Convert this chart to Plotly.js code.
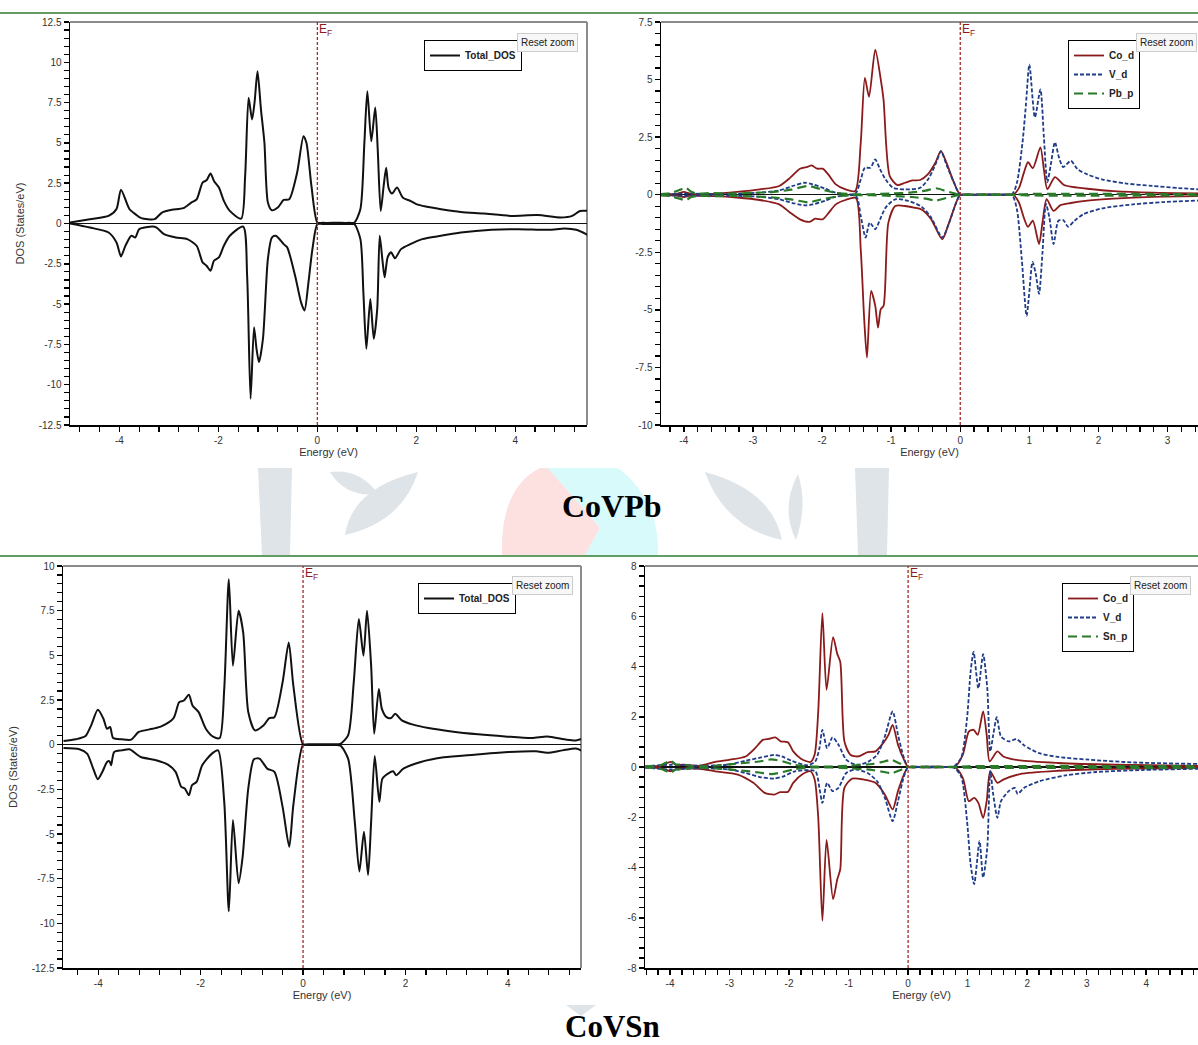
<!DOCTYPE html>
<html>
<head>
<meta charset="utf-8">
<script src="https://cdn.plot.ly/plotly-3.0.1.min.js"></script>
<style>
html,body{margin:0;padding:0;background:#fff;}
#chart{width:1198px;height:1045px;}
</style>
</head>
<body>
<div id="chart"></div>
<script>
// ---------------- DATA ----------------
// Panel 1: CoVPb total DOS
const p1UpE = [-5.0,-4.6,-4.22,-4.06,-3.97,-3.8,-3.68,-3.56,-3.29,-3.14,-2.94,-2.71,-2.55,-2.44,-2.32,-2.24,-2.16,-2.09,-1.99,-1.89,-1.77,-1.54,-1.46,-1.39,-1.32,-1.27,-1.21,-1.14,-1.07,-1.0,-0.92,-0.8,-0.68,-0.57,-0.41,-0.28,-0.22,-0.12,0,0.1,0.4,0.65,0.75,0.87,0.95,1.01,1.09,1.17,1.22,1.28,1.34,1.39,1.44,1.51,1.61,1.73,1.88,2.0,2.19,2.5,2.9,3.36,3.91,4.45,4.92,5.15,5.31,5.5];
const p1Up = [0.06,0.27,0.47,0.9,2.1,0.9,0.58,0.33,0.27,0.68,0.85,0.95,1.3,1.5,2.54,2.68,3.1,2.64,2.23,1.4,0.78,0.3,2.95,7.8,6.45,7.5,9.44,7.07,5.0,1.3,0.82,0.99,1.46,1.5,3.15,5.42,5.0,2.33,0.06,0.04,0.04,0.04,0.06,0.9,5.0,8.2,5.1,7.2,4.6,0.78,2.33,3.46,2.2,1.86,2.23,1.6,1.4,1.2,1.05,0.89,0.72,0.62,0.47,0.52,0.37,0.47,0.78,0.78];
const p1DnE = [-5.0,-4.6,-4.22,-4.06,-3.97,-3.88,-3.76,-3.68,-3.6,-3.33,-3.25,-3.1,-2.86,-2.63,-2.44,-2.32,-2.24,-2.16,-2.09,-1.99,-1.89,-1.77,-1.5,-1.42,-1.35,-1.28,-1.23,-1.18,-1.1,-1.0,-0.92,-0.84,-0.68,-0.61,-0.45,-0.33,-0.26,-0.18,-0.1,0,0.1,0.4,0.65,0.75,0.87,0.93,0.99,1.07,1.14,1.21,1.26,1.32,1.36,1.42,1.49,1.57,1.69,1.88,2.12,2.5,2.9,3.52,4.06,4.68,5.0,5.23,5.5];
const p1Dn = [0,-0.25,-0.56,-1.18,-2.04,-1.38,-0.76,-0.87,-0.35,-0.19,-0.25,-0.66,-0.87,-0.97,-1.38,-2.41,-2.62,-2.93,-2.31,-2.1,-1.38,-0.76,-0.19,-3.24,-10.87,-6.43,-7.77,-8.6,-7.15,-2.2,-0.87,-0.76,-1.28,-1.48,-3.24,-4.89,-5.4,-3.65,-1.59,-0.04,-0.03,-0.03,-0.03,-0.05,-0.97,-4.27,-7.77,-4.68,-7.15,-5.3,-0.76,-2.41,-3.34,-2.1,-1.79,-2.16,-1.59,-1.28,-0.97,-0.76,-0.56,-0.39,-0.35,-0.39,-0.31,-0.39,-0.76];

// Panel 2: CoVPb partial DOS
const p2CoUpE = [-4.34,-4.1,-4.0,-3.9,-3.56,-3.23,-2.9,-2.62,-2.46,-2.32,-2.21,-2.15,-2.07,-1.99,-1.91,-1.8,-1.66,-1.52,-1.44,-1.38,-1.32,-1.23,-1.15,-1.11,-1.02,-0.91,-0.8,-0.69,-0.58,-0.47,-0.36,-0.28,-0.2,-0.09,0,0.25,0.5,0.77,0.85,0.92,0.98,1.05,1.16,1.21,1.26,1.37,1.5,1.62,1.84,2.22,2.78,3.45];
const p2CoUp = [0.02,0.04,0.12,0.04,0.04,0.12,0.23,0.38,0.74,1.13,1.21,1.27,1.13,1.13,0.88,0.45,0.23,0.16,2.25,5.07,4.25,6.3,5.0,4.13,0.81,0.42,0.52,0.62,0.64,0.88,1.39,1.89,1.39,0.52,0.01,0.01,0.01,0.01,0.3,0.95,1.41,1.15,2.06,1.1,0.24,0.76,0.42,0.34,0.26,0.16,0.09,0.06];
const p2CoDnE = [-4.34,-4.1,-4.0,-3.9,-3.56,-3.23,-2.9,-2.62,-2.46,-2.32,-2.18,-2.1,-1.99,-1.91,-1.8,-1.66,-1.51,-1.44,-1.39,-1.35,-1.29,-1.23,-1.19,-1.15,-1.11,-1.04,-0.94,-0.8,-0.67,-0.56,-0.42,-0.26,-0.17,-0.06,0,0.25,0.5,0.77,0.85,0.92,0.98,1.05,1.14,1.19,1.25,1.35,1.45,1.6,1.84,2.22,2.78,3.45];
const p2CoDn = [-0.02,-0.04,-0.1,-0.04,-0.06,-0.12,-0.23,-0.42,-0.78,-1.07,-1.18,-1.04,-1.07,-0.81,-0.42,-0.23,-0.14,-2.37,-5.4,-7.07,-4.18,-4.83,-5.77,-4.97,-4.83,-1.21,-0.49,-0.49,-0.56,-0.64,-1.07,-1.94,-1.29,-0.35,-0.01,-0.01,-0.01,-0.01,-0.35,-1.0,-1.4,-1.13,-2.14,-1.2,-0.19,-0.7,-0.45,-0.36,-0.26,-0.17,-0.09,-0.06];
const p2VUpE = [-4.34,-4.0,-3.5,-2.9,-2.62,-2.4,-2.26,-2.13,-1.96,-1.8,-1.52,-1.44,-1.38,-1.3,-1.23,-1.16,-1.08,-0.97,-0.8,-0.58,-0.45,-0.34,-0.28,-0.2,-0.09,0,0.25,0.5,0.75,0.82,0.9,0.95,1.0,1.08,1.16,1.21,1.26,1.31,1.37,1.43,1.49,1.6,1.7,1.84,2.06,2.39,2.78,3.16,3.45];
const p2VUp = [0.02,0.05,0.03,0.09,0.19,0.4,0.52,0.45,0.27,0.09,0.04,0.66,1.17,1.17,1.53,1.1,0.66,0.3,0.23,0.3,0.74,1.46,1.89,1.31,0.52,0.01,0.01,0.01,0.03,0.52,2.25,3.9,5.65,3.36,4.57,2.5,0.55,1.3,2.28,1.6,1.2,1.47,1.1,0.88,0.66,0.49,0.38,0.29,0.23];
const p2VDnE = [-4.34,-4.0,-3.5,-2.9,-2.62,-2.4,-2.24,-2.13,-1.96,-1.8,-1.51,-1.44,-1.37,-1.31,-1.23,-1.16,-1.08,-0.94,-0.75,-0.56,-0.42,-0.26,-0.17,-0.06,0,0.25,0.5,0.75,0.82,0.89,0.96,1.0,1.045,1.09,1.14,1.19,1.24,1.29,1.35,1.42,1.49,1.56,1.65,1.78,2.06,2.5,2.94,3.45];
const p2VDn = [-0.02,-0.05,-0.03,-0.09,-0.2,-0.38,-0.46,-0.42,-0.27,-0.09,-0.06,-0.92,-1.86,-1.21,-1.5,-1.07,-0.56,-0.2,-0.27,-0.52,-1.0,-1.86,-1.29,-0.35,-0.01,-0.01,-0.01,-0.03,-0.64,-2.8,-5.26,-4.2,-2.92,-3.4,-4.3,-2.5,-0.4,-1.0,-2.14,-1.13,-1.1,-1.39,-1.14,-0.85,-0.59,-0.42,-0.32,-0.25];
const p2PbE = [-4.34,-4.2,-4.05,-3.97,-3.9,-3.8,-3.6,-3.3,-3.0,-2.7,-2.45,-2.2,-2.0,-1.8,-1.55,-1.3,-1.0,-0.7,-0.5,-0.35,-0.2,-0.05,0,0.4,0.8,1.0,1.5,2.0,3.0,3.45];
const p2PbUp = [0.03,0.06,0.22,0.3,0.14,0.05,0.07,0.05,0.08,0.12,0.22,0.38,0.22,0.08,0.02,0.02,0.05,0.1,0.18,0.28,0.15,0.03,0,0.01,0.01,0.03,0.04,0.04,0.03,0.03];
const p2PbDn = [-0.03,-0.06,-0.18,-0.24,-0.11,-0.05,-0.06,-0.05,-0.07,-0.12,-0.2,-0.33,-0.2,-0.08,-0.02,-0.02,-0.05,-0.1,-0.17,-0.25,-0.14,-0.03,0,-0.01,-0.01,-0.03,-0.04,-0.04,-0.03,-0.03];

// Panel 3: CoVSn total DOS
const p3UpE = [-4.68,-4.44,-4.25,-4.14,-4.01,-3.9,-3.83,-3.77,-3.71,-3.54,-3.36,-3.21,-2.94,-2.76,-2.53,-2.42,-2.33,-2.23,-2.16,-2.04,-1.9,-1.75,-1.63,-1.54,-1.45,-1.37,-1.26,-1.17,-1.07,-0.94,-0.77,-0.66,-0.56,-0.4,-0.28,-0.19,0,0.1,0.4,0.62,0.73,0.88,0.99,1.09,1.18,1.25,1.33,1.39,1.48,1.54,1.63,1.72,1.8,1.93,2.15,2.45,2.9,3.42,3.95,4.47,4.77,5.15,5.33,5.45];
const p3Up = [0.2,0.3,0.48,1.08,1.95,1.45,0.89,0.99,0.37,0.3,0.28,0.71,0.89,1.04,1.49,2.38,2.47,2.79,2.19,1.82,0.89,0.43,0.37,3.12,9.26,4.42,7.49,6.28,1.82,0.8,1.08,1.49,1.54,3.49,5.72,3.31,0.02,0.02,0.02,0.02,0.05,0.52,3.49,7.03,4.98,7.49,4.42,0.61,3.12,2.0,1.54,1.49,1.73,1.36,1.12,0.93,0.74,0.58,0.46,0.37,0.46,0.28,0.24,0.33];
const p3DnE = [-4.68,-4.37,-4.22,-4.1,-4.01,-3.92,-3.83,-3.78,-3.75,-3.69,-3.54,-3.39,-3.17,-2.87,-2.64,-2.49,-2.38,-2.31,-2.23,-2.17,-2.08,-1.97,-1.78,-1.66,-1.54,-1.45,-1.37,-1.26,-1.18,-1.07,-0.96,-0.85,-0.7,-0.56,-0.4,-0.27,-0.19,0,0.1,0.4,0.62,0.73,0.88,1.01,1.1,1.19,1.27,1.33,1.4,1.49,1.55,1.66,1.76,1.82,1.96,2.3,2.75,3.35,4.02,4.55,4.77,5.07,5.33,5.45];
const p3Dn = [-0.19,-0.26,-0.5,-1.34,-1.93,-1.52,-0.97,-0.93,-1.15,-0.41,-0.32,-0.26,-0.69,-0.87,-1.12,-1.52,-2.36,-2.45,-2.83,-2.27,-2.08,-1.15,-0.5,-0.32,-3.2,-9.33,-4.22,-7.75,-6.26,-2.45,-0.82,-0.78,-1.34,-1.52,-3.48,-5.71,-3.38,-0.02,-0.02,-0.02,-0.02,-0.05,-0.78,-4.31,-7.1,-4.87,-7.29,-4.31,-0.63,-3.2,-1.9,-1.62,-1.49,-1.71,-1.34,-0.97,-0.71,-0.56,-0.41,-0.37,-0.45,-0.32,-0.22,-0.35];

// Panel 4: CoVSn partial DOS
const p4CoUpE = [-4.42,-4.15,-3.99,-3.88,-3.79,-3.5,-3.24,-2.99,-2.73,-2.57,-2.44,-2.34,-2.23,-2.14,-2.02,-1.93,-1.8,-1.64,-1.57,-1.51,-1.44,-1.37,-1.26,-1.19,-1.14,-1.07,-0.97,-0.84,-0.68,-0.55,-0.42,-0.33,-0.26,-0.17,-0.07,0,0.25,0.55,0.79,0.92,1.02,1.1,1.17,1.26,1.32,1.37,1.5,1.6,1.88,2.52,3.48,4.88];
const p4CoUp = [0.01,0.05,0.2,0.07,0.09,0.05,0.2,0.29,0.42,0.75,1.08,1.12,1.18,1.02,0.99,0.62,0.33,0.2,0.5,2.2,6.12,3.07,5.17,4.5,4.19,1.02,0.49,0.42,0.59,0.62,0.95,1.28,1.68,0.89,0.29,0.01,0.01,0.01,0.02,0.49,1.41,1.48,1.28,2.21,1.28,0.22,0.62,0.42,0.26,0.16,0.09,0.04];
const p4CoDnE = [-4.42,-4.15,-3.99,-3.88,-3.5,-3.24,-2.86,-2.6,-2.41,-2.25,-2.15,-2.02,-1.93,-1.77,-1.64,-1.57,-1.51,-1.44,-1.37,-1.26,-1.19,-1.14,-1.07,-0.94,-0.74,-0.55,-0.39,-0.26,-0.17,-0.07,0,0.25,0.55,0.79,0.92,1.02,1.11,1.18,1.26,1.32,1.38,1.5,1.6,1.88,2.52,3.48,4.88];
const p4CoDn = [-0.01,-0.05,-0.17,-0.07,-0.07,-0.17,-0.3,-0.63,-1.03,-1.1,-1.0,-0.99,-0.63,-0.28,-0.17,-0.5,-2.0,-6.12,-2.9,-5.26,-4.47,-4.07,-0.83,-0.46,-0.5,-0.63,-1.1,-1.69,-0.96,-0.3,-0.01,-0.01,-0.01,-0.02,-0.44,-1.36,-1.23,-1.43,-2.02,-1.36,-0.17,-0.63,-0.5,-0.28,-0.15,-0.07,-0.04];
const p4VUpE = [-4.42,-3.99,-3.5,-3.0,-2.73,-2.47,-2.25,-2.12,-1.96,-1.7,-1.56,-1.49,-1.44,-1.36,-1.27,-1.17,-1.04,-0.87,-0.68,-0.52,-0.39,-0.26,-0.17,-0.07,0,0.25,0.5,0.76,0.89,0.99,1.05,1.1,1.18,1.26,1.33,1.38,1.43,1.49,1.56,1.69,1.82,1.95,2.2,2.52,3.04,3.81,4.88];
const p4VUp = [0.02,0.09,0.05,0.1,0.25,0.38,0.48,0.42,0.25,0.07,0.22,0.75,1.48,0.75,1.18,0.89,0.29,0.09,0.2,0.49,1.22,2.21,1.28,0.36,0.01,0.01,0.01,0.02,0.36,1.94,3.79,4.58,3.13,4.49,3.13,0.62,1.28,1.98,1.22,1.02,1.11,0.86,0.55,0.4,0.29,0.18,0.12];
const p4VDnE = [-4.42,-3.99,-3.5,-3.0,-2.73,-2.47,-2.25,-2.09,-1.9,-1.56,-1.49,-1.44,-1.36,-1.27,-1.17,-1.04,-0.87,-0.68,-0.52,-0.39,-0.26,-0.17,-0.07,0,0.25,0.5,0.76,0.89,0.99,1.05,1.11,1.2,1.26,1.33,1.38,1.43,1.5,1.56,1.69,1.79,1.84,1.95,2.2,2.65,3.16,3.93,4.88];
const p4VDn = [-0.02,-0.1,-0.05,-0.1,-0.24,-0.41,-0.46,-0.37,-0.17,-0.17,-0.83,-1.43,-0.63,-0.96,-0.83,-0.24,-0.1,-0.24,-0.57,-1.23,-2.15,-1.36,-0.37,-0.01,-0.01,-0.01,-0.02,-0.37,-2.15,-3.87,-4.66,-2.95,-4.4,-3.21,-0.17,-1.1,-2.02,-1.36,-0.96,-0.83,-1.07,-0.83,-0.57,-0.33,-0.2,-0.12,-0.07];
const p4SnE = [-4.42,-4.15,-3.99,-3.9,-3.8,-3.6,-3.2,-2.8,-2.5,-2.3,-2.1,-1.9,-1.6,-1.3,-1.0,-0.6,-0.4,-0.28,-0.15,0,0.4,0.8,1.0,2.0,3.0,4.88];
const p4SnUp = [0.02,0.08,0.24,0.1,0.1,0.03,0.06,0.15,0.22,0.3,0.22,0.08,0.02,0.02,0.05,0.12,0.22,0.28,0.15,0,0.01,0.01,0.03,0.04,0.04,0.03];
const p4SnDn = [-0.02,-0.08,-0.22,-0.1,-0.09,-0.03,-0.06,-0.14,-0.22,-0.28,-0.2,-0.08,-0.02,-0.02,-0.05,-0.12,-0.2,-0.25,-0.14,0,-0.01,-0.01,-0.03,-0.04,-0.04,-0.03];

// Tick labels
const p1YTicks = [12.5,10,7.5,5,2.5,0,-2.5,-5,-7.5,-10,-12.5];
const p1YText = ['12.5','10','7.5','5','2.5','0','-2.5','-5','-7.5','-10','-12.5'];
const p1XTicks = [-4,-2,0,2,4];
const p1XText = ['-4','-2','0','2','4'];
const p2YTicks = [7.5,5,2.5,0,-2.5,-5,-7.5,-10];
const p2YText = ['7.5','5','2.5','0','-2.5','-5','-7.5','-10'];
const p2XTicks = [-4,-3,-2,-1,0,1,2,3];
const p2XText = ['-4','-3','-2','-1','0','1','2','3'];
const p3YTicks = [10,7.5,5,2.5,0,-2.5,-5,-7.5,-10,-12.5];
const p3YText = ['10','7.5','5','2.5','0','-2.5','-5','-7.5','-10','-12.5'];
const p3XTicks = [-4,-2,0,2,4];
const p3XText = ['-4','-2','0','2','4'];
const p4YTicks = [8,6,4,2,0,-2,-4,-6,-8];
const p4YText = ['8','6','4','2','0','-2','-4','-6','-8'];
const p4XTicks = [-4,-3,-2,-1,0,1,2,3,4];
const p4XText = ['-4','-3','-2','-1','0','1','2','3','4'];

const panelTitles = ['CoVPb','CoVSn'];

// ---------------- BUILD ----------------
const W = 1198, H = 1045;
const px = x => x / W;
const py = y => 1 - y / H;

const COL_TOT = '#111111', COL_CO = '#8B1A1A', COL_V = '#1F3C88', COL_P = '#2A7A2A';

function tr(x, y, ax, name, color, dash, width, legend, show) {
  return {
    type: 'scatter', mode: 'lines', x: x, y: y,
    xaxis: 'x' + ax, yaxis: 'y' + ax, name: name,
    legend: legend, legendgroup: name + legend, showlegend: show,
    line: {color: color, width: width, dash: dash, shape: 'spline', smoothing: 0.7},
    hoverinfo: 'skip'
  };
}

const data = [
  tr(p1UpE, p1Up, '', 'Total_DOS', COL_TOT, 'solid', 2, 'legend', true),
  tr(p1DnE, p1Dn, '', 'Total_DOS', COL_TOT, 'solid', 2, 'legend', false),

  tr(p2CoUpE, p2CoUp, '2', 'Co_d', COL_CO, 'solid', 1.8, 'legend2', true),
  tr(p2CoDnE, p2CoDn, '2', 'Co_d', COL_CO, 'solid', 1.8, 'legend2', false),
  tr(p2VUpE, p2VUp, '2', 'V_d', COL_V, '4px,2px', 1.8, 'legend2', true),
  tr(p2VDnE, p2VDn, '2', 'V_d', COL_V, '4px,2px', 1.8, 'legend2', false),
  tr(p2PbE, p2PbUp, '2', 'Pb_p', COL_P, '9px,5px', 2.2, 'legend2', true),
  tr(p2PbE, p2PbDn, '2', 'Pb_p', COL_P, '9px,5px', 2.2, 'legend2', false),

  tr(p3UpE, p3Up, '3', 'Total_DOS', COL_TOT, 'solid', 2, 'legend3', true),
  tr(p3DnE, p3Dn, '3', 'Total_DOS', COL_TOT, 'solid', 2, 'legend3', false),

  tr(p4CoUpE, p4CoUp, '4', 'Co_d', COL_CO, 'solid', 1.8, 'legend4', true),
  tr(p4CoDnE, p4CoDn, '4', 'Co_d', COL_CO, 'solid', 1.8, 'legend4', false),
  tr(p4VUpE, p4VUp, '4', 'V_d', COL_V, '4px,2px', 1.8, 'legend4', true),
  tr(p4VDnE, p4VDn, '4', 'V_d', COL_V, '4px,2px', 1.8, 'legend4', false),
  tr(p4SnE, p4SnUp, '4', 'Sn_p', COL_P, '9px,5px', 2.2, 'legend4', true),
  tr(p4SnE, p4SnDn, '4', 'Sn_p', COL_P, '9px,5px', 2.2, 'legend4', false)
];

const tickFont = {family: 'Liberation Sans, Arial, sans-serif', size: 10, color: '#333'};
const titleFont = {family: 'Liberation Sans, Arial, sans-serif', size: 11, color: '#333'};

function xAx(domain, range, tv, tt, minorDt, anchor) {
  return {
    domain: domain, range: range, anchor: anchor,
    tickmode: 'array', tickvals: tv, ticktext: tt,
    showline: true, linecolor: '#000', linewidth: 1.5,
    ticks: 'outside', ticklen: 5, tickwidth: 1.5, tickcolor: '#000',
    minor: {ticks: 'outside', ticklen: 5, tickwidth: 1.2, tickcolor: '#000', dtick: minorDt, tick0: 0, showgrid: false},
    showgrid: false, zeroline: false, tickfont: tickFont,
    title: {text: 'Energy (eV)', font: titleFont, standoff: 4}
  };
}
function yAx(domain, range, tv, tt, minorDt, anchor, withTitle) {
  const a = {
    domain: domain, range: range, anchor: anchor,
    tickmode: 'array', tickvals: tv, ticktext: tt,
    showline: true, linecolor: '#000', linewidth: 1.5,
    ticks: 'outside', ticklen: 5, tickwidth: 1.5, tickcolor: '#000',
    minor: {ticks: 'outside', ticklen: 5, tickwidth: 1.2, tickcolor: '#000', dtick: minorDt, tick0: 0, showgrid: false},
    showgrid: false, zeroline: true, zerolinecolor: '#111', zerolinewidth: 1.2,
    tickfont: tickFont
  };
  if (withTitle) a.title = {text: 'DOS (States/eV)', font: titleFont, standoff: 12};
  return a;
}

const d1x = [px(70), px(587)], d1y = [py(425), py(22)];
const d2x = [px(661), 1], d2y = [py(425), py(22)];
const d3x = [px(63), px(581)], d3y = [py(968), py(566)];
const d4x = [px(645), 1], d4y = [py(968), py(566)];

function legendBox(x, y) {
  return {
    x: px(x), y: py(y), xanchor: 'left', yanchor: 'top',
    bgcolor: '#ffffff', bordercolor: '#000', borderwidth: 1,
    font: {family: 'Liberation Sans, Arial, sans-serif', size: 10, color: '#222', weight: 'bold'},
    tracegroupgap: 0, itemwidth: 30
  };
}

const shapes = [];
const annotations = [];
function border(xr, yr, withRight) {
  shapes.push({type: 'line', xref: xr + ' domain', yref: yr + ' domain', x0: 0, x1: 1, y0: 1, y1: 1, line: {color: '#8c8c8c', width: 2}, layer: 'below'});
  if (withRight) shapes.push({type: 'line', xref: xr + ' domain', yref: yr + ' domain', x0: 1, x1: 1, y0: 0, y1: 1, line: {color: '#8c8c8c', width: 2}, layer: 'below'});
}
border('x', 'y', true); border('x2', 'y2', false); border('x3', 'y3', true); border('x4', 'y4', false);

[['x','y'],['x2','y2'],['x3','y3'],['x4','y4']].forEach(([xr, yr]) => {
  shapes.push({type: 'line', xref: xr, yref: yr + ' domain', x0: 0, x1: 0, y0: 0, y1: 1,
    line: {color: '#A52A2A', width: 1.3, dash: '3px,2px'}, layer: 'above'});
  annotations.push({xref: xr, yref: yr + ' domain', x: 0, y: 1, xanchor: 'left', yanchor: 'top',
    text: 'E<sub>F</sub>', showarrow: false, xshift: 0, yshift: 2,
    font: {family: 'Liberation Sans, Arial, sans-serif', size: 12, color: '#8B1A1A'}});
});

[[578, 33], [1197, 33], [573, 576], [1191, 576]].forEach(([x, y]) => {
  annotations.push({xref: 'paper', yref: 'paper', x: px(x), y: py(y), xanchor: 'right', yanchor: 'top',
    text: 'Reset zoom', showarrow: false, bgcolor: '#f7f7f7', bordercolor: '#cccccc', borderwidth: 1, borderpad: 3,
    font: {family: 'Liberation Sans, Arial, sans-serif', size: 10, color: '#222'}});
});

annotations.push({xref: 'paper', yref: 'paper', x: px(612), y: py(506), xanchor: 'center', yanchor: 'middle',
  text: panelTitles[0], showarrow: false, font: {family: 'Liberation Serif, Times New Roman, serif', size: 32, color: '#000', weight: 'bold'}});
annotations.push({xref: 'paper', yref: 'paper', x: px(612), y: py(1026), xanchor: 'center', yanchor: 'middle',
  text: panelTitles[1], showarrow: false, font: {family: 'Liberation Serif, Times New Roman, serif', size: 31, color: '#000', weight: 'bold'}});

shapes.push({type: 'line', xref: 'paper', yref: 'paper', x0: 0, x1: 1, y0: py(13), y1: py(13), line: {color: '#2E7D32', width: 1.5}});
shapes.push({type: 'line', xref: 'paper', yref: 'paper', x0: 0, x1: 1, y0: py(556), y1: py(556), line: {color: '#2E7D32', width: 1.5}});

// Faint background watermark (decorative)
function pathStr(cmds) {
  return cmds.map(c => {
    const op = c[0];
    const nums = [];
    for (let i = 1; i < c.length; i += 2) nums.push(px(c[i]) + ',' + py(c[i + 1]));
    return op + ' ' + nums.join(' ');
  }).join(' ');
}
const wmGrey = '#dfe4e8';
const wm = [
  {c: '#fde0e0', p: [['M',502,555],['Q',500,488,540,468],['L',548,468],['L',600,528],['L',585,555],['Z']]},
  {c: '#d8fafa', p: [['M',548,468],['L',618,468],['Q',660,500,658,555],['L',585,555],['L',600,528],['Z']]},
  {c: wmGrey, p: [['M',258,468],['L',292,468],['L',290,555],['L',262,555],['Z']]},
  {c: wmGrey, p: [['M',855,468],['L',889,468],['L',887,555],['L',858,555],['Z']]},
  {c: wmGrey, p: [['M',345,535],['Q',352,488,418,472],['Q',402,522,345,535],['Z']]},
  {c: wmGrey, p: [['M',330,472],['Q',360,468,378,494],['Q',346,498,330,472],['Z']]},
  {c: wmGrey, p: [['M',782,540],['Q',772,490,705,472],['Q',725,528,782,540],['Z']]},
  {c: wmGrey, p: [['M',798,474],['Q',808,505,796,540],['Q',780,508,798,474],['Z']]},
  {c: wmGrey, p: [['M',566,1005],['L',596,1005],['L',581,1016],['Z']]}
];
wm.forEach(w => shapes.push({type: 'path', xref: 'paper', yref: 'paper', path: pathStr(w.p), fillcolor: w.c, line: {width: 0}, layer: 'below'}));

const layout = {
  width: W, height: H,
  margin: {l: 0, r: 0, t: 0, b: 0},
  paper_bgcolor: '#ffffff', plot_bgcolor: '#ffffff',
  showlegend: true,
  xaxis: xAx(d1x, [-5.0, 5.45], p1XTicks, p1XText, 0.4, 'y'),
  yaxis: yAx(d1y, [-12.5, 12.5], p1YTicks, p1YText, 0.5, 'x', true),
  xaxis2: xAx(d2x, [-4.33, 3.44], p2XTicks, p2XText, 0.2, 'y2'),
  yaxis2: yAx(d2y, [-10, 7.5], p2YTicks, p2YText, 0.5, 'x2', false),
  xaxis3: xAx(d3x, [-4.69, 5.43], p3XTicks, p3XText, 0.4, 'y3'),
  yaxis3: yAx(d3y, [-12.5, 10], p3YTicks, p3YText, 0.5, 'x3', true),
  xaxis4: xAx(d4x, [-4.42, 4.87], p4XTicks, p4XText, 0.2, 'y4'),
  yaxis4: yAx(d4y, [-8, 8], p4YTicks, p4YText, 0.4, 'x4', false),
  legend: legendBox(424, 40),
  legend2: legendBox(1068, 40),
  legend3: legendBox(418, 583),
  legend4: legendBox(1062, 583),
  shapes: shapes,
  annotations: annotations
};

Plotly.newPlot('chart', data, layout, {staticPlot: true, displayModeBar: false});
</script>
</body>
</html>
